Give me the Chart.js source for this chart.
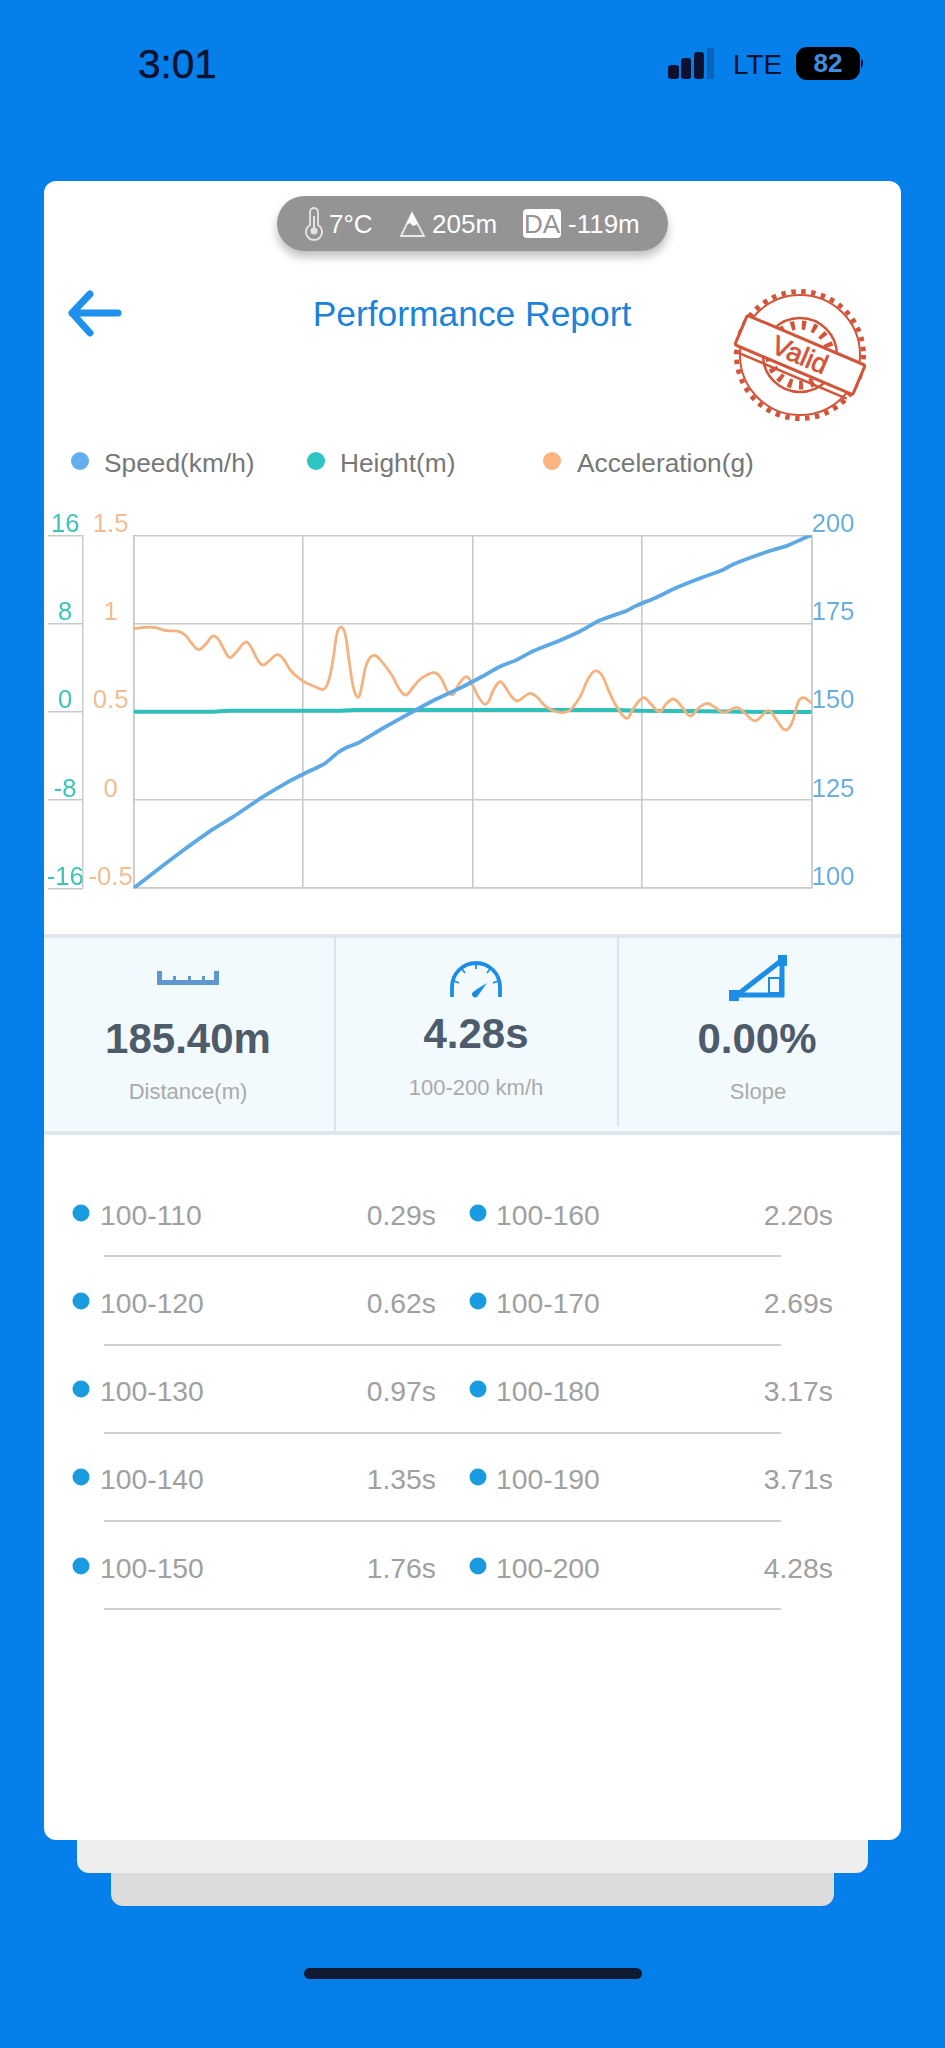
<!DOCTYPE html>
<html><head><meta charset="utf-8">
<script src="https://cdn.jsdelivr.net/npm/chart.js@4"></script>
<style>
html,body{margin:0;padding:0;background:#0580ea;width:945px;height:2048px;overflow:hidden;font-family:"Liberation Sans",Arial,sans-serif}
.a{position:absolute}
.t{position:absolute;white-space:nowrap;line-height:1;transform:translateY(-50%)}
.c{transform:translate(-50%,-50%)}
.r{transform:translate(-100%,-50%)}
.dot{position:absolute;border-radius:50%;transform:translate(-50%,-50%)}
</style></head><body>
<div id="root">
<div class="a" style="left:111px;top:1862px;width:723px;height:44px;background:#dcdcdc;border-radius:0 0 12px 12px"></div>
<div class="a" style="left:77px;top:1832px;width:791px;height:41px;background:#eeeeee;border-radius:0 0 12px 12px"></div>
<div class="a" style="left:44px;top:181px;width:857px;height:1659px;background:#fff;border-radius:12px"></div>

<div class="t" style="left:138px;top:64px;font-size:40.500px;font-weight:500;color:#0b1230;-webkit-text-stroke:.5px #0b1230">3:01</div>
<svg class="a" style="left:660px;top:40px" width="215" height="50">
 <rect x="8" y="25" width="11" height="14" rx="3" fill="#0b1230"/>
 <rect x="21" y="18" width="10" height="21" rx="3" fill="#0b1230"/>
 <rect x="34" y="12" width="10" height="27" rx="3" fill="#0b1230"/>
 <rect x="47" y="8" width="7" height="31" fill="#0a64b8"/>
 <rect x="136" y="7" width="64" height="33" rx="11" fill="#000"/>
 <path d="M201 18 q4 5 0 11z" fill="#000"/>
</svg>
<div class="t" style="left:733px;top:65px;font-size:28px;color:#0b1230">LTE</div>
<div class="t c" style="left:828px;top:63px;font-size:26px;font-weight:700;color:#3f8fe0">82</div>

<div class="a" style="left:277px;top:196px;width:391px;height:55px;border-radius:28px;background:#949494;box-shadow:0 6px 10px rgba(0,0,0,.25)"></div>
<svg class="a" style="left:300px;top:205px" width="340" height="38" fill="none">
 <path d="M10 7 a4 4 0 0 1 8 0 v13 a8 8 0 1 1 -8 0z" stroke="#e4e4e4" stroke-width="1.800"/>
 <circle cx="14" cy="26" r="3.500" fill="#e4e4e4"/><rect x="13" y="11" width="2" height="14" fill="#e4e4e4"/>
 <path d="M112 8 L101 31 H124z" stroke="#e8e8e8" stroke-width="1.800"/><path d="M112 8 L106 20 L110 18 L113 21 L118 19z" fill="#fff"/>
 <rect x="223" y="4" width="38" height="29" rx="4" fill="#fff"/>
</svg>
<div class="t" style="left:329px;top:224px;font-size:26px;color:#fff">7°C</div>
<div class="t" style="left:432px;top:224px;font-size:26px;color:#fff">205m</div>
<div class="t c" style="left:542px;top:224px;font-size:26px;color:#949494">DA</div>
<div class="t" style="left:568px;top:224px;font-size:26px;color:#fff">-119m</div>

<svg class="a" style="left:64px;top:288px" width="60" height="54" fill="none">
 <path d="M26 6 L8 25 L26 45 M8 25 H54" stroke="#1e90ee" stroke-width="7" stroke-linecap="round" stroke-linejoin="round"/>
</svg>
<div class="t c" style="left:472px;top:315px;font-size:35.400px;color:#1a82d8" id="title">Performance Report</div>

<svg class="a" style="left:725px;top:285px" width="150" height="140">
 <g transform="translate(75,70)" fill="none" stroke="#d2553a">
  <circle r="63.500" stroke-width="5" stroke-dasharray="4.500 5.500"/>
  <circle r="60" stroke-width="2"/>
  <circle r="37" stroke-width="2.500"/>
  <circle r="30" stroke-width="9" stroke-dasharray="4 7"/>
  <g transform="rotate(23)">
   <rect x="-64" y="-16" width="128" height="32" rx="2" fill="#fff" stroke-width="3"/>
   <text x="0" y="9" text-anchor="middle" font-size="27" font-family="Liberation Sans" fill="#d2553a" stroke="#d2553a" stroke-width=".7">Valid</text>
   <line x1="-60" y1="22" x2="60" y2="22" stroke-width="2.500"/>
  </g>
 </g>
</svg>

<div class="dot" style="left:80px;top:461px;width:18px;height:18px;background:#63aeee"></div>
<div class="dot" style="left:316px;top:461px;width:18px;height:18px;background:#2cc6c2"></div>
<div class="dot" style="left:552px;top:461px;width:18px;height:18px;background:#fbb480"></div>
<div class="t" style="left:104px;top:463px;font-size:26.300px;color:#777">Speed(km/h)</div>
<div class="t" style="left:340px;top:463px;font-size:26.300px;color:#777">Height(m)</div>
<div class="t" style="left:577px;top:463px;font-size:26.300px;color:#777">Acceleration(g)</div>

<canvas id="c" class="a" style="left:40px;top:500px"></canvas>

<div class="a" style="left:44px;top:934px;width:857px;height:201px;background:#f2fafd;border-top:4px solid #dfe7ec;border-bottom:4px solid #dfe7ec;box-sizing:border-box"></div>
<div class="a" style="left:334px;top:936px;width:2px;height:197px;background:#dde5ea"></div>
<div class="a" style="left:617px;top:936px;width:2px;height:190px;background:#dde5ea"></div>
<svg class="a" style="left:150px;top:950px" width="650" height="56" fill="none">
 <path d="M7 30 h62 v5 h-62z M7 21 h5 v10 h-5z M64 21 h5 v10 h-5z M23 26 h3 v5 h-3z M38 26 h3 v5 h-3z M52 26 h3 v5 h-3z" fill="#5f97cf"/>
 <path d="M302 47 v-10 a24 24 0 0 1 48 0 v10" stroke="#1b8de6" stroke-width="3.800"/>
 <path d="M326 14 v5 M312 19 l3 4 M340 19 l-3 4 M304 31 l5 2 M348 31 l-5 2" stroke="#1b8de6" stroke-width="1.800"/>
 <path d="M337 33 L327 39 L322 43 a3.500 3.500 0 0 0 5 4z" fill="#1b8de6"/>
 <path d="M585 45 H634 M632 10 V47 M587 45 L632 10" stroke="#1b8de6" stroke-width="5"/>
 <rect x="579" y="40" width="10" height="11" fill="#1b8de6"/>
 <rect x="628" y="5" width="9" height="11" fill="#1b8de6"/>
 <rect x="619" y="28" width="11" height="15" stroke="#1b8de6" stroke-width="2"/>
</svg>
<div class="t c" style="left:188px;top:1039px;font-size:42px;font-weight:700;color:#4d5b6a">185.40m</div>
<div class="t c" style="left:476px;top:1034px;font-size:42px;font-weight:700;color:#4d5b6a">4.28s</div>
<div class="t c" style="left:757px;top:1039px;font-size:42px;font-weight:700;color:#4d5b6a">0.00%</div>
<div class="t c" style="left:188px;top:1092px;font-size:22px;color:#aaa">Distance(m)</div>
<div class="t c" style="left:476px;top:1088px;font-size:22px;color:#aaa">100-200 km/h</div>
<div class="t c" style="left:758px;top:1092px;font-size:22px;color:#aaa">Slope</div>

<div id="rows"></div>
<div class="a" style="left:304px;top:1968px;width:338px;height:11px;border-radius:6px;background:#111a33"></div>
</div>
<script>
// 100-x km/h split times
const splitLabels = ['100-110','100-120','100-130','100-140','100-150','100-160','100-170','100-180','100-190','100-200'];
const splitTimes  = ['0.29s','0.62s','0.97s','1.35s','1.76s','2.20s','2.69s','3.17s','3.71s','4.28s'];

// Speed (km/h) against time (s)
const speedTime = [0,0.187,0.29,0.48,0.62,0.82,0.97,1.07,1.208,1.292,1.35,1.418,1.576,1.76,1.892,2.06,2.20,2.313,2.418,2.523,2.69,2.818,2.933,3.028,3.112,3.17,3.30,3.428,3.596,3.71,3.786,4.017,4.122,4.228,4.28];
const speedKmh  = [100,106.5,110,116.1,120,126,130,132.3,135.4,138.5,140,141.2,145.4,150,153.2,156.7,160,162.8,164.7,167.2,170.2,172.8,175.7,177.3,178.6,180,182.4,185.2,188.2,190,191.8,195.6,197,199.1,200];

// Height (m) against time (s)
const heightTime = [0,0.5,0.6,1.3,1.4,3.05,3.2,3.6,4.0,4.28];
const heightM    = [0,0,0.08,0.08,0.15,0.15,0.08,0.05,-0.02,-0.02];

// Acceleration (g) against time (s)
const accelTime = [0,0.082,0.135,0.208,0.282,0.324,0.366,0.408,0.45,0.499,0.535,0.572,0.608,0.65,0.707,0.739,0.777,0.814,0.861,0.903,0.941,0.997,1.069,1.134,1.197,1.229,1.261,1.286,1.309,1.334,1.362,1.391,1.418,1.439,1.471,1.517,1.566,1.629,1.681,1.719,1.766,1.808,1.892,1.934,1.987,2.018,2.05,2.102,2.144,2.176,2.212,2.239,2.271,2.313,2.344,2.386,2.422,2.46,2.502,2.544,2.597,2.649,2.702,2.755,2.818,2.87,2.913,2.955,2.997,3.049,3.112,3.155,3.218,3.27,3.319,3.365,3.411,3.46,3.512,3.565,3.617,3.67,3.723,3.807,3.859,3.923,4.007,4.059,4.112,4.154,4.196,4.228,4.28];
const accelG    = [0.971,0.979,0.977,0.96,0.956,0.935,0.888,0.852,0.878,0.929,0.91,0.85,0.807,0.841,0.895,0.869,0.803,0.765,0.793,0.824,0.803,0.727,0.674,0.646,0.627,0.671,0.812,0.954,0.979,0.944,0.774,0.623,0.582,0.642,0.774,0.82,0.784,0.708,0.623,0.595,0.642,0.684,0.722,0.699,0.608,0.599,0.652,0.699,0.642,0.585,0.544,0.557,0.623,0.671,0.642,0.585,0.561,0.582,0.604,0.585,0.533,0.506,0.495,0.51,0.585,0.689,0.731,0.708,0.623,0.529,0.463,0.519,0.58,0.538,0.5,0.548,0.572,0.529,0.476,0.519,0.548,0.525,0.495,0.525,0.491,0.449,0.506,0.453,0.397,0.434,0.557,0.58,0.548];

const xGridTicks = [0,1.07,2.14,3.21,4.28];
const pair = (xs, ys) => xs.map((x,i)=>({x, y:ys[i]}));

// table rows
const rows = document.getElementById('rows');
const rowY = [1214,1302,1390,1478,1567];
const ruleY = [1255,1344,1432,1520,1608];
function el(style, cls, txt){const d=document.createElement('div');d.className=cls;d.style.cssText=style;if(txt)d.textContent=txt;rows.appendChild(d);}
rowY.forEach((y,i)=>{
  el(`left:81px;top:${y-1}px;width:17px;height:17px;background:#1a9be0`,'dot');
  el(`left:478px;top:${y-1}px;width:17px;height:17px;background:#1a9be0`,'dot');
  el(`left:100px;top:${y+1}px;font-size:28.300px;color:#a0a0a0`,'t',splitLabels[i]);
  el(`left:436px;top:${y+1}px;font-size:28.300px;color:#a0a0a0`,'t r',splitTimes[i]);
  el(`left:496px;top:${y+1}px;font-size:28.300px;color:#a0a0a0`,'t',splitLabels[i+5]);
  el(`left:833px;top:${y+1}px;font-size:28.300px;color:#a0a0a0`,'t r',splitTimes[i+5]);
  el(`left:104px;top:${ruleY[i]}px;width:677px;height:1.5px;background:#cfcfcf`,'a');
});

const gridC = '#c9c9c9', fontT = {family:'"Liberation Sans"',size:25.600};
const canvas = document.getElementById('c');
canvas.width = 822; canvas.height = 420;
canvas.style.width='822px'; canvas.style.height='420px';
new Chart(canvas, {
  type:'line',
  data:{datasets:[
    {label:'Speed(km/h)',data:pair(speedTime,speedKmh),yAxisID:'ySpeed',borderColor:'#5ea8e6',borderWidth:3.8,pointRadius:0,tension:.2,order:1},
    {label:'Height(m)',data:pair(heightTime,heightM),yAxisID:'yHeight',borderColor:'#2fc0bc',borderWidth:4,pointRadius:0,tension:0,order:3},
    {label:'Acceleration(g)',data:pair(accelTime,accelG),yAxisID:'yAccel',borderColor:'#f3b27f',borderWidth:2.8,pointRadius:0,tension:.4,order:2}
  ]},
  options:{
    responsive:false,animation:false,devicePixelRatio:1,
    layout:{padding:{left:0,right:0,top:35.3,bottom:31.8}},
    plugins:{legend:{display:false},tooltip:{enabled:false}},
    scales:{
      x:{type:'linear',min:0,max:4.28,
        afterBuildTicks:s=>{s.ticks=xGridTicks.map(v=>({value:v}));},
        afterFit:s=>{s.height=0;},
        ticks:{display:false},
        grid:{color:gridC,lineWidth:1.6,drawTicks:false},
        border:{color:gridC,width:1.6}},
      yHeight:{position:'left',weight:2,min:-16,max:16,
        afterFit:s=>{s.width=42.7;},
        ticks:{stepSize:8,color:'#3dc5b7',font:fontT,crossAlign:'center',padding:-36,labelOffset:-10.5},
        grid:{drawOnChartArea:false,drawTicks:true,tickLength:35,tickColor:gridC,lineWidth:1.4},
        border:{color:gridC,width:1.4}},
      yAccel:{position:'left',weight:1,min:-0.5,max:1.5,
        afterFit:s=>{s.width=51;},
        ticks:{stepSize:0.5,color:'#f2bd90',font:fontT,crossAlign:'center',padding:1,labelOffset:-10.5,callback:v=>String(v)},
        grid:{drawOnChartArea:false,drawTicks:false},
        border:{color:gridC,width:1.6}},
      ySpeed:{position:'right',min:100,max:200,
        afterFit:s=>{s.width=50.3;},
        ticks:{stepSize:25,color:'#6aaede',font:fontT,padding:0,labelOffset:-10.5},
        grid:{color:gridC,lineWidth:1.6,drawTicks:false},
        border:{color:gridC,width:1.6}}
    }
  }
});
</script>
</body></html>
